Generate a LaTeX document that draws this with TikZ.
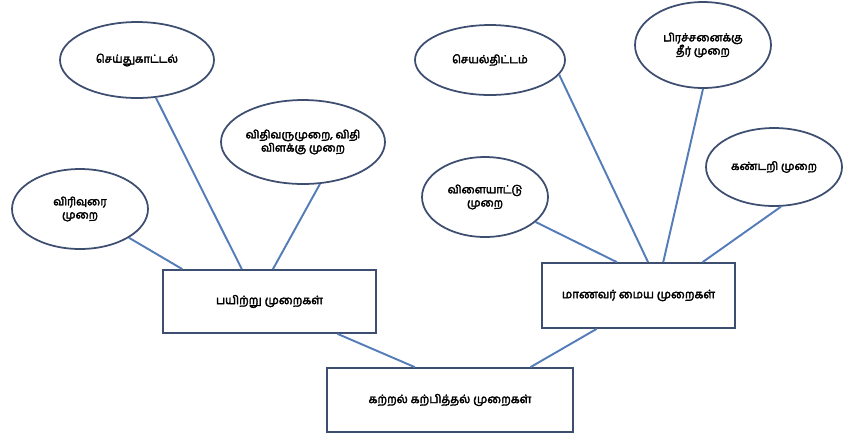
\documentclass[tikz,border=0pt]{standalone}
\usepackage{fontspec}
\newfontfamily\tamilfont[Script=Tamil, FakeBold=3]{Hind Madurai}
\usetikzlibrary{shapes.geometric,calc}
\definecolor{edgeblue}{RGB}{62,78,112}
\definecolor{linkblue}{RGB}{84,124,184}
\begin{document}
\begin{tikzpicture}[x=0.02cm, y=-0.02cm,
		ellnode/.style={draw=edgeblue, line width=1pt, ellipse, inner sep=0pt, align=center, font=\tamilfont\fontsize{6.3}{7.5}\selectfont},
		boxnode/.style={draw=edgeblue, line width=1pt, rectangle, inner sep=0pt, font=\tamilfont\fontsize{6.6}{8}\selectfont},
		link/.style={draw=linkblue, line width=1.1pt}]
				\useasboundingbox (0,0) rectangle (851,441);

				% Main box
				\node[boxnode, minimum width=4.92cm, minimum height=1.28cm] (bb) at (450,400) {கற்றல் கற்பித்தல் முறைகள்};

				% Teaching methods
				\node[boxnode, minimum width=4.26cm, minimum height=1.26cm] (lb) at (269.5,301.5) {பயிற்று முறைகள்};
				\node[ellnode, minimum width=2.72cm, minimum height=1.6cm] (vm) at (80,209) {விரிவுரை\\முறை};
				\node[ellnode, minimum width=3.08cm, minimum height=1.52cm] (sd) at (137,60) {செய்துகாட்டல்};
				\node[ellnode, minimum width=3.28cm, minimum height=1.68cm] (vv) at (303,142) {விதிவருமுறை, விதி\\விளக்கு முறை};
				\draw[link] (vm) -- ($(lb.north west)!0.094!(lb.north east)$);
				\draw[link] (sd) -- ($(lb.north west)!0.371!(lb.north east)$);
				\draw[link] (vv.-68) -- ($(lb.north west)!0.516!(lb.north east)$);

				% Student centred methods
				\node[boxnode, minimum width=3.86cm, minimum height=1.3cm] (rb) at (638.5,295.5) {மாணவர் மைய முறைகள்};
				\node[ellnode, minimum width=2.52cm, minimum height=1.6cm] (vl) at (485,197) {விளையாட்டு\\முறை};
				\node[ellnode, minimum width=3.0cm, minimum height=1.4cm] (st) at (490,60) {செயல்திட்டம்};
				\node[ellnode, minimum width=2.72cm, minimum height=1.72cm] (pt) at (703,45) {பிரச்சனைக்கு\\தீர் முறை};
				\node[ellnode, minimum width=2.72cm, minimum height=1.56cm] (kd) at (774,167) {கண்டறி முறை};
				\draw[link] (vl) -- ($(rb.north west)!0.389!(rb.north east)$);
				\draw[link] (st.-12) -- ($(rb.north west)!0.549!(rb.north east)$);
				\draw[link] (pt.south) -- ($(rb.north west)!0.627!(rb.north east)$);
				\draw[link] (kd.-80) -- ($(rb.north west)!0.829!(rb.north east)$);

				% Links to main box
				\draw[link] ($(lb.south west)!0.817!(lb.south east)$) -- ($(bb.north west)!0.358!(bb.north east)$);
				\draw[link] ($(rb.south west)!0.285!(rb.south east)$) -- ($(bb.north west)!0.825!(bb.north east)$);
			\end{tikzpicture}
\end{document}
